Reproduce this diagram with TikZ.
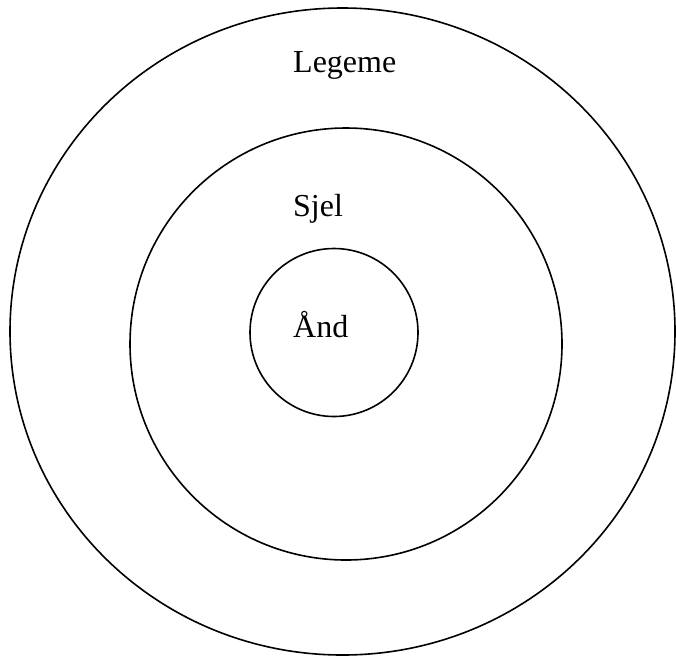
\documentclass[tikz,border=0pt]{standalone}
\usepackage{fontspec}
\setmainfont{Liberation Serif}
\begin{document}
\begin{tikzpicture}[x=1pt,y=-1pt,
  ring/.style={draw=black,line width=1.6pt},
  lbl/.style={anchor=base west,inner sep=0pt,font=\fontsize{32}{38}\selectfont}]
\useasboundingbox (0,0) rectangle (676,657);
\draw[ring] (342.5,331.5) ellipse [x radius=332.5, y radius=323.5];
\draw[ring] (346,344) circle [radius=216];
\draw[ring] (334,332.5) circle [radius=84];
\node[lbl] (legeme) at (293,72) {Legeme};
\node[lbl] (sjel) at (293,216) {Sjel};
\node[lbl] (aand) at (293,337) {Ånd};
\end{tikzpicture}
\end{document}
